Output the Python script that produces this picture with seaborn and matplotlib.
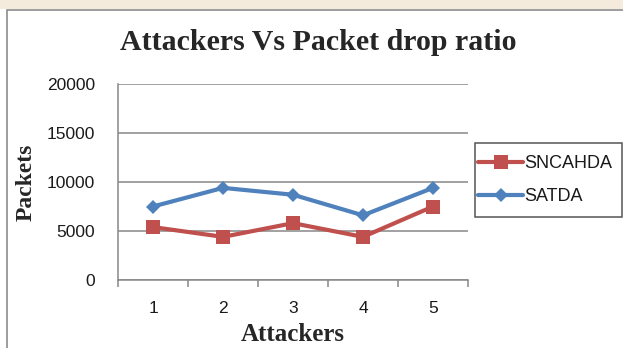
import matplotlib
matplotlib.use("Agg")
import matplotlib.pyplot as plt
from matplotlib.patches import Rectangle
from matplotlib.ticker import FixedLocator, NullFormatter
import pandas as pd
import seaborn as sns

attackers = [1, 2, 3, 4, 5]
sncahda = [5400, 4400, 5800, 4400, 7500]
satda = [7500, 9400, 8700, 6600, 9400]
series_names = ["SNCAHDA", "SATDA"]
y_ticks = [0, 5000, 10000, 15000, 20000]

df = pd.DataFrame({
    "Attackers": attackers * 2,
    "Packets": sncahda + satda,
    "Series": [series_names[0]] * len(attackers) + [series_names[1]] * len(attackers),
})

sns.set_theme(style="white")
plt.rcParams["font.family"] = ["Liberation Sans", "DejaVu Sans"]

W, H = 623, 348
fig = plt.figure(figsize=(W / 100, H / 100), dpi=100)
fig.patch.set_facecolor("white")

# faint strip above the chart frame, then the chart frame
fig.add_artist(Rectangle((0, 1 - 9 / H), 1, 9 / H, transform=fig.transFigure,
                         facecolor="#f4ebdc", edgecolor="none", zorder=0))
fig.add_artist(Rectangle((6.5 / W, -0.1), 1.2, 1 - 9.5 / H + 0.1, transform=fig.transFigure,
                         facecolor="white", edgecolor="#8c8c8c", linewidth=1.2, zorder=0))

ax = fig.add_axes([118 / W, 1 - 280 / H, (468 - 118) / W, (280 - 84) / H])
ax.set_facecolor("none")

palette = {"SNCAHDA": "#C0504D", "SATDA": "#4F81BD"}
markers = {"SNCAHDA": "s", "SATDA": "D"}
sizes = {"SNCAHDA": 10.5, "SATDA": 7.5}

sns.lineplot(data=df, x="Attackers", y="Packets", hue="Series", style="Series",
             palette=palette, markers=markers, dashes=False, linewidth=3.0,
             markersize=8, markeredgewidth=0, ax=ax, legend=False, zorder=3)

for line, name in zip(ax.get_lines(), series_names):
    line.set_markersize(sizes[name])

ax.set_xlim(0.5, 5.5)
ax.set_ylim(0, 20000)
ax.set_yticks(y_ticks)
ax.set_yticklabels([str(v) for v in y_ticks])
ax.set_xticks(attackers)
ax.set_xticklabels([str(a) for a in attackers])
ax.xaxis.set_minor_locator(FixedLocator([0.5, 1.5, 2.5, 3.5, 4.5, 5.5]))
ax.xaxis.set_minor_formatter(NullFormatter())

ax.grid(axis="y", color="#888888", linewidth=1.1)
ax.set_axisbelow(True)
for side in ("top", "right"):
    ax.spines[side].set_visible(False)
for side in ("left", "bottom"):
    ax.spines[side].set_color("#888888")
    ax.spines[side].set_linewidth(1.1)

ax.tick_params(axis="y", which="major", direction="out", length=4.5, width=1.1,
               color="#888888", labelsize=12.5, pad=12, labelcolor="#1a1a1a")
ax.tick_params(axis="x", which="major", length=0, labelsize=12.5, pad=15,
               labelcolor="#1a1a1a")
ax.tick_params(axis="x", which="minor", direction="out", length=5, width=1.1,
               color="#888888", bottom=True)

ax.set_xlabel("Attackers", family="Liberation Serif", fontweight="bold",
              fontsize=18, labelpad=5.5)
ax.set_ylabel("Packets", family="Liberation Serif", fontweight="bold",
              fontsize=17, labelpad=7)

fig.text(318 / W, 1 - 43 / H, "Attackers Vs Packet drop ratio",
         family="Liberation Serif", fontweight="bold", fontsize=21.5,
         ha="center", va="center")

# legend box and entries
fig.add_artist(Rectangle((475 / W, 1 - 217 / H), (622 - 475) / W, (217 - 143) / H,
                         transform=fig.transFigure, facecolor="white",
                         edgecolor="#555555", linewidth=1.1, zorder=1))
handles = ax.get_lines()[:2]
leg = fig.legend(handles, series_names, loc="center left",
                 bbox_to_anchor=(478 / W, 1 - 180 / H), frameon=False,
                 fontsize=13, handlelength=2.5, handletextpad=0.05,
                 borderpad=0, labelspacing=0.9, borderaxespad=0)
for t in leg.get_texts():
    t.set_color("#1a1a1a")

fig.savefig("out.png", dpi=100)
